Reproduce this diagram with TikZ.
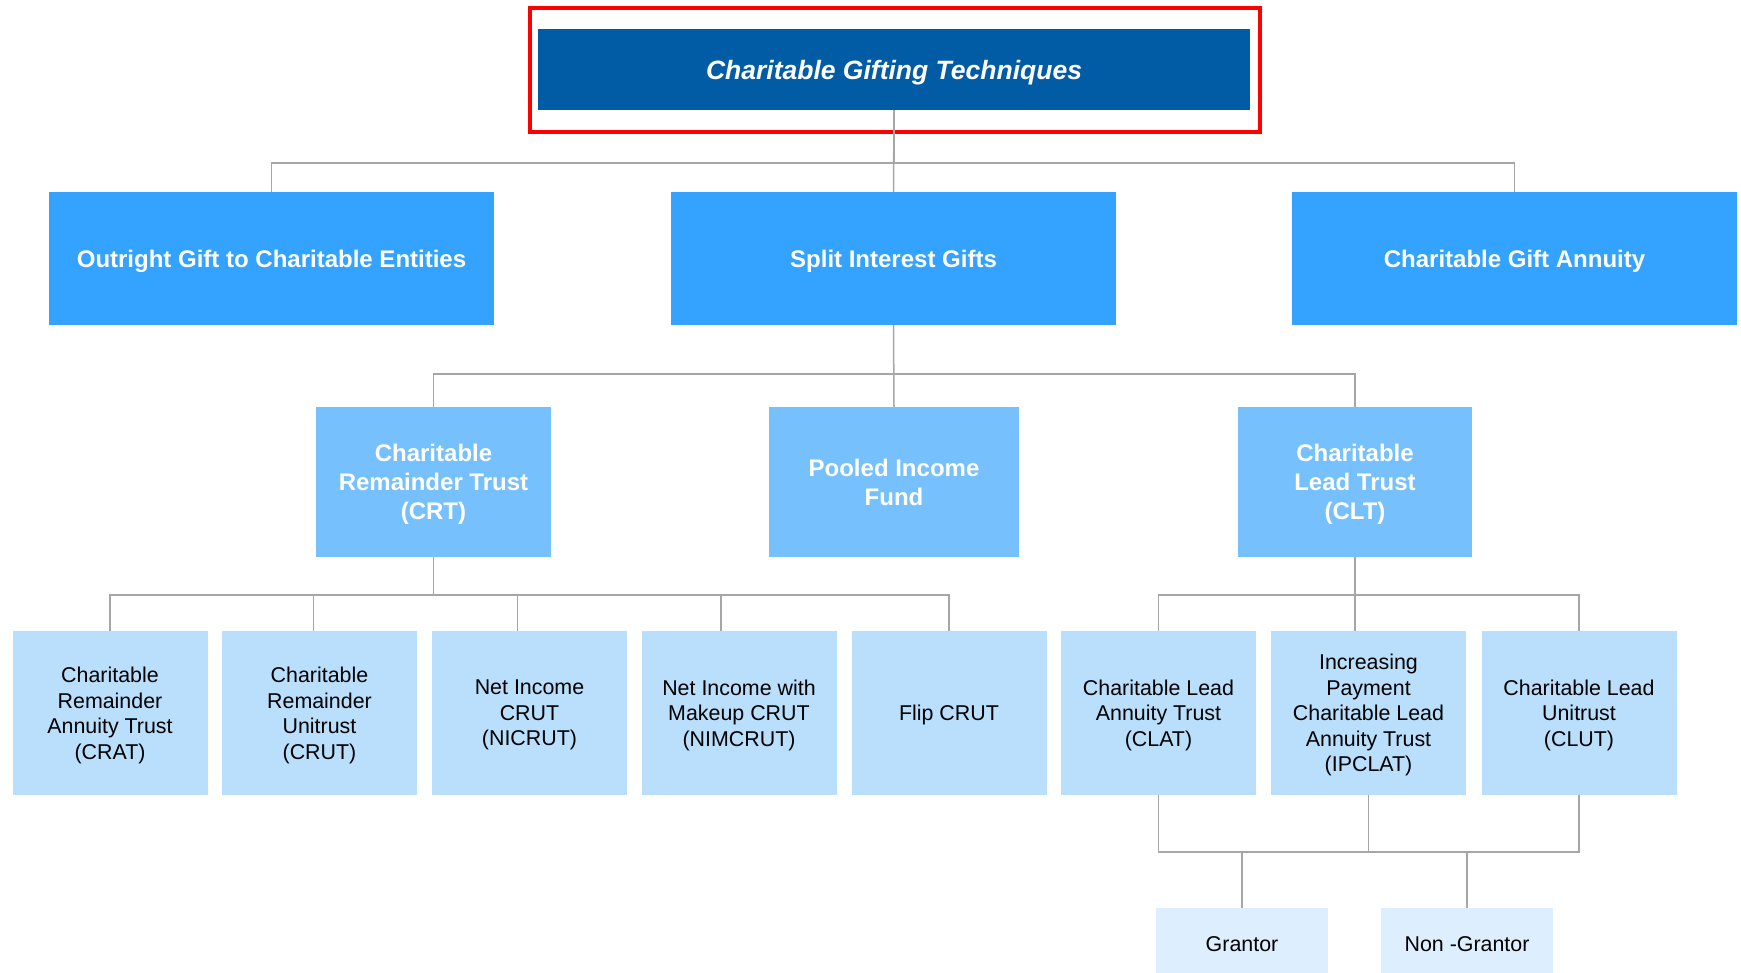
\documentclass[tikz,border=0pt]{standalone}
\usepackage{fontspec}
\setmainfont{Liberation Sans}
\definecolor{headblue}{RGB}{2,92,165}
\definecolor{giftblue}{RGB}{51,163,255}
\definecolor{trustblue}{RGB}{118,193,253}
\definecolor{leafblue}{RGB}{185,223,252}
\definecolor{endblue}{RGB}{221,238,254}
\definecolor{linkgray}{RGB}{166,166,166}
\tikzset{
	headbox/.style={fill=headblue, text=white, inner sep=0pt, text depth=0pt, minimum width=712pt,
		minimum height=81pt, font=\fontsize{26.5}{30}\selectfont\bfseries\itshape},
	giftbox/.style={fill=giftblue, text=white, inner sep=0pt, text depth=0pt, minimum width=445pt,
		minimum height=133pt, align=center, font=\fontsize{24}{28.9}\selectfont\bfseries},
	trustbox/.style={fill=trustblue, text=white, inner sep=0pt, text depth=0pt, minimum height=150pt,
		align=center, font=\fontsize{24}{28.9}\selectfont\bfseries},
	leafbox/.style={fill=leafblue, text=black, inner sep=0pt, text depth=0pt, minimum width=195pt,
		minimum height=164pt, align=center, font=\fontsize{21.4}{25.5}\selectfont},
	endbox/.style={fill=endblue, text=black, inner sep=0pt, text depth=0pt, minimum width=172pt,
		minimum height=72pt, font=\fontsize{21.4}{25.5}\selectfont},
	link/.style={draw=linkgray, line width=1.5pt}
}
\begin{document}
\begin{tikzpicture}[x=1pt, y=-1pt]
	\useasboundingbox (0,0) rectangle (1741,973);
	% Titel
	\node[headbox] (title) at (894,69.5) {Charitable Gifting Techniques};
	\draw[red, line width=3.2pt] (530,8) rectangle (1260,132);

	% erste Ebene
	\node[giftbox] (outright) at (271.5,258.5) {Outright Gift to Charitable Entities};
	\node[giftbox] (split) at (893.5,258.5) {Split Interest Gifts};
	\node[giftbox] (annuity) at (1514.5,258.5) {Charitable Gift Annuity};

	% zweite Ebene
	\node[trustbox, minimum width=235pt] (crt) at (433.5,482) {Charitable\\Remainder Trust\\(CRT)};
	\node[trustbox, minimum width=250pt] (pooled) at (894,482) {Pooled Income\\Fund};
	\node[trustbox, minimum width=234pt] (clt) at (1355,482) {Charitable\\Lead Trust\\(CLT)};

	% dritte Ebene
	\node[leafbox] (crat) at (110,713) {Charitable\\Remainder\\Annuity Trust\\(CRAT)};
	\node[leafbox] (crut) at (319.5,713) {Charitable\\Remainder\\Unitrust\\(CRUT)};
	\node[leafbox] (nicrut) at (529.5,713) {Net Income\\CRUT\\(NICRUT)};
	\node[leafbox] (nimcrut) at (739,713) {Net Income with\\Makeup CRUT\\(NIMCRUT)};
	\node[leafbox] (flip) at (949,713) {Flip CRUT};
	\node[leafbox] (clat) at (1158.5,713) {Charitable Lead\\Annuity Trust\\(CLAT)};
	\node[leafbox] (ipclat) at (1368.5,713) {Increasing\\Payment\\Charitable Lead\\Annuity Trust\\(IPCLAT)};
	\node[leafbox] (clut) at (1579,713) {Charitable Lead\\Unitrust\\(CLUT)};

	% unterste Ebene
	\node[endbox] (grantor) at (1242,944) {Grantor};
	\node[endbox] (nongrantor) at (1467,944) {Non -Grantor};
	\coordinate (merge) at (1368.5,852);

	% Verbindungen
	\draw[link] (title.south) -- (split.north);
	\draw[link] (title.south) -- ++(0,53) -| (outright.north);
	\draw[link] (title.south) -- ++(0,53) -| (annuity.north);
	\draw[link] (split.south) -- (pooled.north);
	\draw[link] (split.south) -- ++(0,49) -| (crt.north);
	\draw[link] (split.south) -- ++(0,49) -| (clt.north);
	\foreach \leaf/\dx in {crat/0, crut/-6, nicrut/-12, nimcrut/-18, flip/0}
		\draw[link] (crt.south) -- ++(0,38) -| ([xshift=\dx pt]\leaf.north);
	\foreach \leaf/\dx in {clat/0, ipclat/-13.5, clut/0}
		\draw[link] (clt.south) -- ++(0,38) -| ([xshift=\dx pt]\leaf.north);
	\draw[link] (clat.south) |- (merge);
	\draw[link] (clut.south) |- (merge);
	\draw[link] (ipclat.south) -- (merge);
	\draw[link] (merge) -| (grantor.north);
	\draw[link] (merge) -| (nongrantor.north);
\end{tikzpicture}
\end{document}
